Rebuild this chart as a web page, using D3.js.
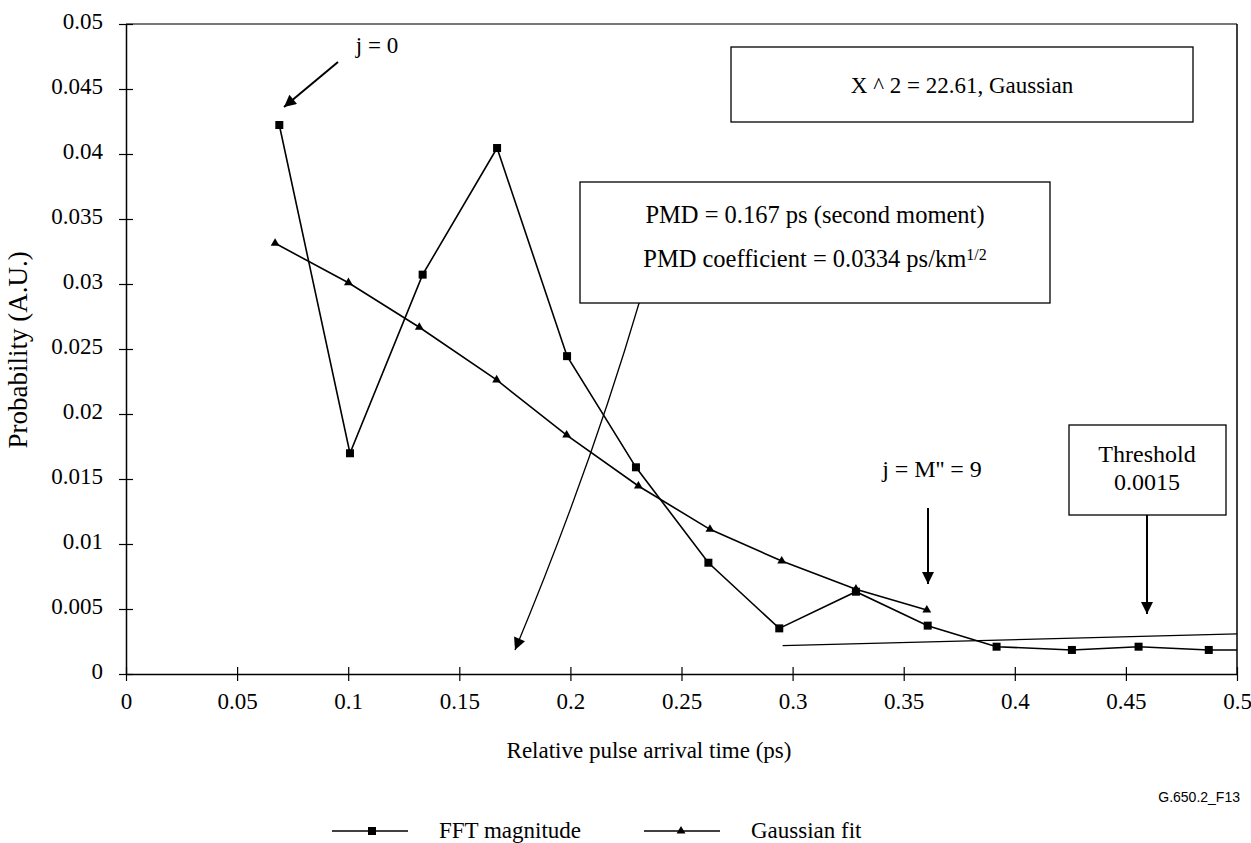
<!DOCTYPE html>
<html>
<head>
<meta charset="utf-8">
<script src="https://cdn.jsdelivr.net/npm/d3@7"></script>
<style>
  html, body { margin: 0; padding: 0; background: #fff; }
  svg { display: block; }
  text { font-family: "Liberation Serif", "DejaVu Serif", serif; fill: #000; }
</style>
</head>
<body>
<svg id="chart" width="1251" height="843"></svg>
<script>
// Relative pulse arrival time (ps) of each FFT bin and its magnitude
const fftTime = [0.0690, 0.1008, 0.1335, 0.1670, 0.1985, 0.2295, 0.2621, 0.2940, 0.3285, 0.3608, 0.3918, 0.4257, 0.4557, 0.4873, 0.5190];
const fftMagnitude = [0.04223, 0.01698, 0.03072, 0.04046, 0.02445, 0.01590, 0.00856, 0.00351, 0.00633, 0.00372, 0.00210, 0.00185, 0.00210, 0.00185, 0.00185];

// Gaussian fit evaluated up to j = M'' = 9
const gaussTime = [0.0671, 0.1001, 0.1320, 0.1668, 0.1983, 0.2306, 0.2628, 0.2951, 0.3285, 0.3604];
const gaussFit = [0.03313, 0.03010, 0.02667, 0.02262, 0.01838, 0.01446, 0.01113, 0.00869, 0.00652, 0.00492];

// Straight reference line drawn across the tail
const tailTime = [0.2955, 0.5000];
const tailLevel = [0.00218, 0.00308];

const xTickValues = [0, 0.05, 0.1, 0.15, 0.2, 0.25, 0.3, 0.35, 0.4, 0.45, 0.5];
const xTickLabels = ["0", "0.05", "0.1", "0.15", "0.2", "0.25", "0.3", "0.35", "0.4", "0.45", "0.5"];
const yTickValues = [0, 0.005, 0.01, 0.015, 0.02, 0.025, 0.03, 0.035, 0.04, 0.045, 0.05];
const yTickLabels = ["0", "0.005", "0.01", "0.015", "0.02", "0.025", "0.03", "0.035", "0.04", "0.045", "0.05"];

const seriesNames = ["FFT magnitude", "Gaussian fit"];

const SERIF = '"Liberation Serif", "DejaVu Serif", serif';
const FS = 23;
const svg = d3.select("#chart");
const plot = { left: 126, top: 24, right: 1237, bottom: 674 };

const x = d3.scaleLinear().domain([0, 0.5]).range([plot.left, plot.right]);
const y = d3.scaleLinear().domain([0, 0.05]).range([plot.bottom, plot.top]);

// arrowhead marker
const defs = svg.append("defs");
defs.append("marker")
  .attr("id", "head")
  .attr("viewBox", "0 0 10 10")
  .attr("refX", 10).attr("refY", 5)
  .attr("markerWidth", 14).attr("markerHeight", 12)
  .attr("markerUnits", "userSpaceOnUse")
  .attr("orient", "auto")
  .append("path").attr("d", "M0,0 L10,5 L0,10 Z").attr("fill", "#000");

defs.append("clipPath").attr("id", "plotClip")
  .append("rect")
  .attr("x", plot.left).attr("y", plot.top - 10)
  .attr("width", plot.right - plot.left).attr("height", plot.bottom - plot.top + 20);

// frame: top and right edges
svg.append("line")
  .attr("x1", plot.left).attr("x2", plot.right)
  .attr("y1", plot.top).attr("y2", plot.top)
  .attr("stroke", "#4a4a4a").attr("stroke-width", 1.5);
svg.append("line")
  .attr("x1", plot.right).attr("x2", plot.right)
  .attr("y1", plot.top).attr("y2", plot.bottom)
  .attr("stroke", "#000").attr("stroke-width", 1.5);

// axes with ticks crossing the axis line
const xAxis = svg.append("g")
  .attr("transform", `translate(0,${plot.bottom})`)
  .call(d3.axisBottom(x).tickValues(xTickValues).tickFormat((d, i) => xTickLabels[i]).tickSizeOuter(0).tickSizeInner(7))
  .attr("font-family", SERIF).attr("font-size", FS);
xAxis.select(".domain").attr("stroke", "#000").attr("stroke-width", 1.5);
xAxis.selectAll(".tick line").attr("y1", -7).attr("y2", 7).attr("stroke", "#000").attr("stroke-width", 1.2);
xAxis.selectAll(".tick text")
  .attr("y", 35).attr("dy", null)
  .attr("font-family", SERIF).attr("font-size", FS).attr("fill", "#000");

const yAxis = svg.append("g")
  .attr("transform", `translate(${plot.left},0)`)
  .call(d3.axisLeft(y).tickValues(yTickValues).tickFormat((d, i) => yTickLabels[i]).tickSizeOuter(0).tickSizeInner(7))
  .attr("font-family", SERIF).attr("font-size", FS);
yAxis.select(".domain").attr("stroke", "#000").attr("stroke-width", 1.5);
yAxis.selectAll(".tick line").attr("x1", -7).attr("x2", 7).attr("stroke", "#000").attr("stroke-width", 1.2);
yAxis.selectAll(".tick text")
  .attr("x", -23).attr("y", -3).attr("dy", "0.32em")
  .attr("font-family", SERIF).attr("font-size", FS).attr("fill", "#000");

// axis titles
svg.append("text")
  .attr("x", 649).attr("y", 758)
  .attr("text-anchor", "middle").style("font-size", FS + "px")
  .text("Relative pulse arrival time (ps)");
svg.append("text")
  .attr("transform", `translate(27,350) rotate(-90)`)
  .attr("text-anchor", "middle").style("font-size", "27px")
  .text("Probability (A.U.)");

const lineGen = d3.line().x(d => x(d[0])).y(d => y(d[1]));
const plotArea = svg.append("g").attr("clip-path", "url(#plotClip)");

const fftPts = fftTime.map((t, i) => [t, fftMagnitude[i]]);
const gaussPts = gaussTime.map((t, i) => [t, gaussFit[i]]);
const tailPts = tailTime.map((t, i) => [t, tailLevel[i]]);

plotArea.append("path").datum(tailPts).attr("d", lineGen)
  .attr("fill", "none").attr("stroke", "#000").attr("stroke-width", 1.3);
plotArea.append("path").datum(gaussPts).attr("d", lineGen)
  .attr("fill", "none").attr("stroke", "#000").attr("stroke-width", 1.6);
plotArea.append("path").datum(fftPts).attr("d", lineGen)
  .attr("fill", "none").attr("stroke", "#000").attr("stroke-width", 1.6);

const sq = 8;
plotArea.selectAll("rect.fft").data(fftPts).join("rect")
  .attr("class", "fft")
  .attr("x", d => x(d[0]) - sq / 2).attr("y", d => y(d[1]) - sq / 2)
  .attr("width", sq).attr("height", sq).attr("fill", "#000");

const tri = d3.symbol().type(d3.symbolTriangle).size(34);
plotArea.selectAll("path.gauss").data(gaussPts).join("path")
  .attr("class", "gauss")
  .attr("transform", d => `translate(${x(d[0])},${y(d[1])})`)
  .attr("d", tri).attr("fill", "#000");

// annotation boxes
function box(x0, y0, x1, y1) {
  svg.append("rect").attr("x", x0).attr("y", y0)
    .attr("width", x1 - x0).attr("height", y1 - y0)
    .attr("fill", "#fff").attr("stroke", "#000").attr("stroke-width", 1.3);
}
function arrow(x0, y0, x1, y1, w) {
  svg.append("line").attr("x1", x0).attr("y1", y0).attr("x2", x1).attr("y2", y1)
    .attr("stroke", "#000").attr("stroke-width", w || 2).attr("marker-end", "url(#head)");
}

// PMD annotation with a gently curved pointer
svg.append("path")
  .attr("d", "M640,300 Q590,470 515,650")
  .attr("fill", "none").attr("stroke", "#000").attr("stroke-width", 1.3)
  .attr("marker-end", "url(#head)");
box(580, 182, 1050, 303);
svg.append("text").attr("x", 815).attr("y", 223).attr("text-anchor", "middle")
  .style("font-size", "24.5px").text("PMD = 0.167 ps (second moment)");
const t2 = svg.append("text").attr("x", 815).attr("y", 267).attr("text-anchor", "middle")
  .style("font-size", "24.5px");
t2.append("tspan").text("PMD coefficient = 0.0334 ps/km");
t2.append("tspan").attr("dy", "-0.45em").style("font-size", "16px").text("1/2");

box(731, 47, 1193, 122);
svg.append("text").attr("x", 962).attr("y", 93).attr("text-anchor", "middle")
  .style("font-size", FS + "px").text("X ^ 2 = 22.61, Gaussian");

box(1069, 425, 1226, 515);
svg.append("text").attr("x", 1147).attr("y", 462).attr("text-anchor", "middle")
  .style("font-size", "24px").text("Threshold");
svg.append("text").attr("x", 1147).attr("y", 490).attr("text-anchor", "middle")
  .style("font-size", "24px").text("0.0015");
arrow(1147, 515, 1147, 614, 2);

svg.append("text").attr("x", 377).attr("y", 53).attr("text-anchor", "middle")
  .style("font-size", FS + "px").text("j = 0");
arrow(338, 62, 284, 107, 2);

svg.append("text").attr("x", 932).attr("y", 477).attr("text-anchor", "middle")
  .style("font-size", "24px").text("j = M'' = 9");
arrow(928, 508, 928, 584, 2);

// legend
const legY = 831;
const leg = svg.append("g");
leg.append("line").attr("x1", 332).attr("x2", 408).attr("y1", legY).attr("y2", legY)
  .attr("stroke", "#000").attr("stroke-width", 1.5);
leg.append("rect").attr("x", 372 - sq / 2).attr("y", legY - sq / 2).attr("width", sq).attr("height", sq).attr("fill", "#000");
leg.append("text").attr("x", 439).attr("y", legY + 7).style("font-size", FS + "px").text(seriesNames[0]);
leg.append("line").attr("x1", 644).attr("x2", 720).attr("y1", legY).attr("y2", legY)
  .attr("stroke", "#000").attr("stroke-width", 1.5);
leg.append("path").attr("transform", `translate(681,${legY})`).attr("d", tri).attr("fill", "#000");
leg.append("text").attr("x", 751).attr("y", legY + 7).style("font-size", FS + "px").text(seriesNames[1]);

svg.append("text").attr("x", 1240).attr("y", 802).attr("text-anchor", "end")
  .style("font-family", '"Liberation Sans", Arial, sans-serif').style("font-size", "14px")
  .text("G.650.2_F13");
</script>
</body>
</html>
